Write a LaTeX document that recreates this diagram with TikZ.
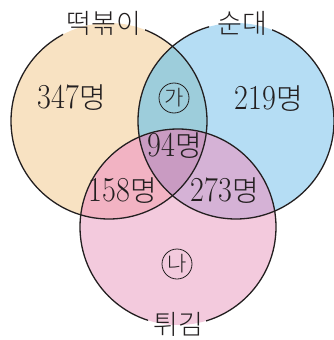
\documentclass[tikz,border=0pt]{standalone}
\usepackage{fontspec}
\usepackage{graphicx}
\newfontfamily\kr{Noto Sans CJK KR Light}
\definecolor{cL}{HTML}{F8E2C2}
\definecolor{cR}{HTML}{B5DDF4}
\definecolor{cB}{HTML}{F3CADD}
\definecolor{cLR}{HTML}{9DCDDB}
\definecolor{cLB}{HTML}{F2B3C3}
\definecolor{cRB}{HTML}{D5B2D6}
\definecolor{cLRB}{HTML}{C99BC2}
\definecolor{ink}{HTML}{231F20}
\newcommand{\cnt}[1]{\scalebox{0.86}[1]{#1}{\kr\fontsize{29}{29}\selectfont 명}}
\begin{document}
\begin{tikzpicture}[x=1pt,y=-1pt,
  lbl/.style={text=ink,font=\kr\fontsize{27}{27}\selectfont,inner sep=0pt},
  num/.style={text=ink,font=\fontsize{35}{35}\selectfont,inner sep=0pt},
  circled/.style={draw=ink,circle,line width=0.8pt,minimum size=30pt,inner sep=0pt,text=ink,font=\kr\fontsize{21}{21}\selectfont},
  circ/.style={draw=ink,line width=1.3pt}]
\useasboundingbox (0,0) rectangle (334,340);
\def\CL{(109,121) circle[radius=98pt]}
\def\CR{(236,121) circle[radius=98pt]}
\def\CB{(178,227) circle[radius=98pt]}
% base fills
\fill[cL] \CL;
\fill[cR] \CR;
\fill[cB] \CB;
\begin{scope}\clip \CL; \fill[cLR] \CR; \fill[cLB] \CB; \end{scope}
\begin{scope}\clip \CR; \fill[cRB] \CB; \end{scope}
\begin{scope}\clip \CL; \clip \CR; \fill[cLRB] \CB; \end{scope}
% outlines with gaps at the titles
\begin{scope}[even odd rule]
  \clip (-5,-5) rectangle (340,345) (63,8) rectangle (145,38) (209,8) rectangle (272,38) (148,308) rectangle (206,340);
  \draw[circ] \CL;
  \draw[circ] \CR;
  \draw[circ] \CB;
\end{scope}
% titles
\node[lbl] (tL) at (104,23) {떡볶이};
\node[lbl] (tR) at (242,23) {순대};
\node[lbl] (tB) at (178,324) {튀김};
% numbers
\node[num] (nL) at (72,98) {\cnt{347}};
\node[num] (nR) at (269,99) {\cnt{219}};
\node[num] (nC) at (175,146) {\cnt{94}};
\node[num] (nLB) at (123,191) {\cnt{158}};
\node[num] (nRB) at (225,191) {\cnt{273}};
% circled marks
\node[circled] (ga) at (174,98) {가};
\node[circled] (na) at (177,264) {나};
\end{tikzpicture}
\end{document}
